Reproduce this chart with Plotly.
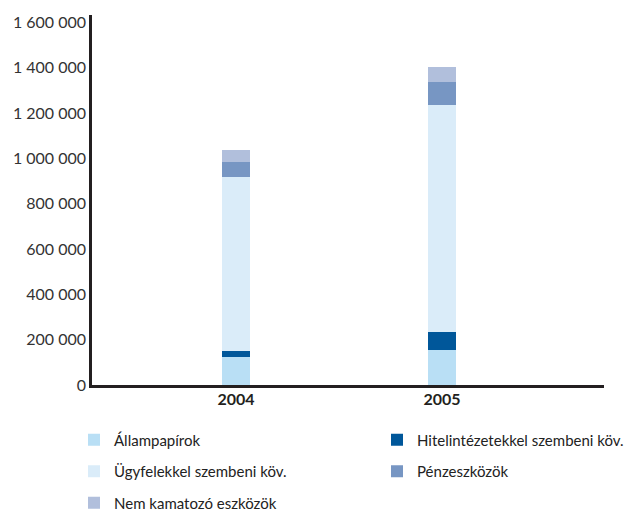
import plotly.graph_objects as go

years = ["2004", "2005"]
allampapirok = [124000, 154000]
hitelintezetek = [26000, 79000]
ugyfelek = [768000, 1003000]
penzeszkozok = [66000, 100000]
nem_kamatozo = [53000, 66000]

y_tickvals = [0, 200000, 400000, 600000, 800000, 1000000, 1200000, 1400000, 1600000]
y_ticktext = ["0", "200 000", "400 000", "600 000", "800 000", "1 000 000", "1 200 000", "1 400 000", "1 600 000"]

series_names = ["Állampapírok", "Hitelintézetekkel szembeni köv.", "Ügyfelekkel szembeni köv.",
                "Pénzeszközök", "Nem kamatozó eszközök"]
series_values = [allampapirok, hitelintezetek, ugyfelek, penzeszkozok, nem_kamatozo]
series_colors = ["#b9dff5", "#00579a", "#daecf9", "#7796c3", "#b1bfdc"]

# page offset of the plot div (body margin) is compensated in the layout numbers
W, H = 625, 506
pl, pr, pt, pb = 84, 596, 7, 377   # plot area in figure pixels
pw, ph = pr - pl, pb - pt

# legend grid (column x of legend box, row centre y) in figure pixels
leg_cols = [66, 369]
leg_rows = [432, 463.5, 495]
leg_slots = [(0, 0), (1, 0), (0, 1), (1, 1), (0, 2)]

fig = go.Figure()
font_family = "Lato, 'Open Sans', sans-serif"
layout_legends = {}
for i, (name, vals, color) in enumerate(zip(series_names, series_values, series_colors)):
    key = "legend" if i == 0 else f"legend{i + 1}"
    fig.add_trace(go.Bar(x=years, y=vals, name=name, marker=dict(color=color, line=dict(width=0)),
                         width=0.136, legend=key))
    c, r = leg_slots[i]
    layout_legends[key] = dict(
        orientation="h", xref="paper", yref="paper",
        x=(leg_cols[c] - pl) / pw, y=(pb - leg_rows[r]) / ph,
        xanchor="left", yanchor="middle", itemwidth=30,
        font=dict(family=font_family, size=15, color="#222222"),
        bgcolor="rgba(0,0,0,0)", itemclick=False, itemdoubleclick=False)

fig.update_layout(
    barmode="stack",
    width=W, height=H,
    margin=dict(l=pl, r=W - pr, t=pt, b=H - pb, autoexpand=False),
    paper_bgcolor="white", plot_bgcolor="white",
    showlegend=True,
    **layout_legends,
    xaxis=dict(type="category", range=[-0.699, 1.786], showline=True, linecolor="#231f20", linewidth=3,
               ticks="", showgrid=False, zeroline=False, ticklabelstandoff=-2,
               tickfont=dict(family=font_family, size=16, color="#231f20", weight="bold")),
    yaxis=dict(range=[0, 1633000], tickvals=y_tickvals, ticktext=y_ticktext, showline=True,
               linecolor="#231f20", linewidth=2.5, ticks="", showgrid=False, zeroline=False,
               ticklabelstandoff=0,
               tickfont=dict(family=font_family, size=16, color="#333333")),
)

fig.write_html("out.html")
